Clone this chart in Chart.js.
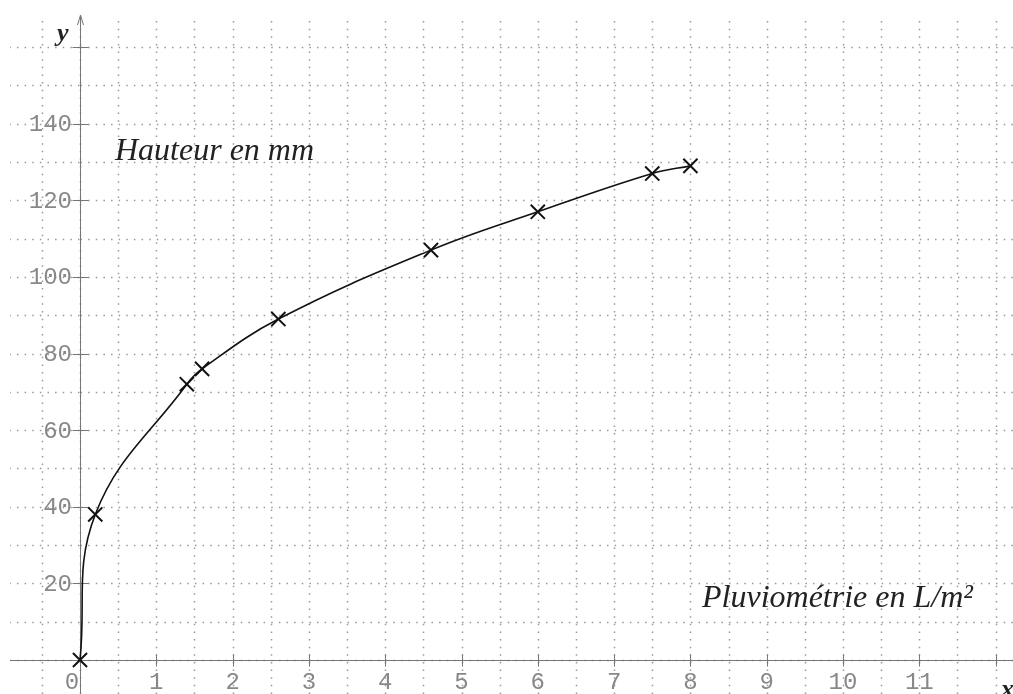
<!DOCTYPE html>
<html>
<head>
<meta charset="utf-8">
<script src="https://cdn.jsdelivr.net/npm/chart.js@4/dist/chart.umd.min.js"></script>
<style>
  html, body { margin: 0; padding: 0; background: #fff; }
  canvas { display: block; }
</style>
</head>
<body>
<canvas id="pluvioChart" width="1013" height="694"></canvas>
<script>
// data
const pluvio = [0, 0.2, 1.4, 1.6, 2.6, 4.6, 6, 7.5, 8];
const hauteur = [0, 38, 72, 76, 89, 107, 117, 127, 129];
const xTickLabels = [0, 1, 2, 3, 4, 5, 6, 7, 8, 9, 10, 11];
const yTickLabels = [20, 40, 60, 80, 100, 120, 140];
const xGrid = [-0.5, 0, 0.5, 1, 1.5, 2, 2.5, 3, 3.5, 4, 4.5, 5, 5.5, 6, 6.5, 7, 7.5, 8, 8.5, 9, 9.5, 10, 10.5, 11, 11.5, 12];
const yGrid = [0, 10, 20, 30, 40, 50, 60, 70, 80, 90, 100, 110, 120, 130, 140, 150, 160];

// grid, axes and labels drawn with the chart's own scales
const repere = {
  id: "repere",
  beforeDatasetsDraw(chart) {
    const { ctx, scales } = chart;
    const sx = scales.x, sy = scales.y;
    const x0 = sx.getPixelForValue(0), y0 = sy.getPixelForValue(0);
    const step = (sx.getPixelForValue(1) - x0) / 10;

    ctx.save();
    // dotted grid
    ctx.strokeStyle = "#999";
    ctx.lineWidth = 1.5;
    ctx.setLineDash([1.5, step - 1.5]);
    xGrid.forEach((v) => {
      const px = Math.round(sx.getPixelForValue(v)) + 0.5;
      ctx.beginPath();
      ctx.moveTo(px, 694);
      ctx.lineTo(px, 20);
      ctx.stroke();
    });
    yGrid.forEach((v) => {
      const py = Math.round(sy.getPixelForValue(v)) + 0.5;
      ctx.beginPath();
      ctx.moveTo(x0 - 0.5, py);
      ctx.lineTo(10, py);
      ctx.moveTo(x0 + 0.5, py);
      ctx.lineTo(1013, py);
      ctx.stroke();
    });
    ctx.setLineDash([]);

    // axes
    const ax = Math.round(x0) + 0.5, ay = Math.round(y0) + 0.5;
    ctx.strokeStyle = "#777";
    ctx.lineWidth = 1;
    ctx.beginPath();
    ctx.moveTo(10, ay);
    ctx.lineTo(1013, ay);
    ctx.moveTo(ax, 694);
    ctx.lineTo(ax, 15);
    ctx.moveTo(ax - 3, 25);
    ctx.lineTo(ax, 15);
    ctx.lineTo(ax + 3, 25);
    ctx.stroke();

    // ticks
    ctx.beginPath();
    for (let v = 1; v <= 12; v++) {
      const px = Math.round(sx.getPixelForValue(v)) + 0.5;
      ctx.moveTo(px, ay - 6);
      ctx.lineTo(px, ay + 6);
    }
    [20, 40, 60, 80, 100, 120, 140, 160].forEach((v) => {
      const py = Math.round(sy.getPixelForValue(v)) + 0.5;
      ctx.moveTo(ax - 8, py);
      ctx.lineTo(ax + 8, py);
    });
    ctx.stroke();

    // tick labels
    ctx.fillStyle = "#888";
    ctx.font = "24px 'Liberation Mono'";
    ctx.textAlign = "center";
    ctx.textBaseline = "middle";
    xTickLabels.forEach((v) => {
      const px = sx.getPixelForValue(v) - (v === 0 ? 8 : 0);
      ctx.fillText(String(v), px, 683);
    });
    ctx.textAlign = "right";
    yTickLabels.forEach((v) => {
      ctx.fillText(String(v), x0 - 8, sy.getPixelForValue(v) + 1);
    });
    ctx.restore();
  },
  afterDraw(chart) {
    const { ctx } = chart;
    ctx.save();
    ctx.fillStyle = "#222";
    ctx.font = "italic 32px 'Liberation Serif'";
    ctx.textBaseline = "alphabetic";
    ctx.textAlign = "left";
    ctx.fillText("Hauteur en mm", 115, 160);
    ctx.fillText("Pluviométrie en L/m²", 702, 607);
    ctx.font = "italic bold 26px 'Liberation Serif'";
    ctx.fillText("y", 57, 41);
    ctx.fillText("x", 1001, 697);
    ctx.restore();
  },
};

new Chart(document.getElementById("pluvioChart"), {
  type: "scatter",
  data: {
    datasets: [
      {
        label: "Hauteur",
        data: pluvio.map((x, i) => ({ x: x, y: hauteur[i] })),
        showLine: true,
        tension: 0.4,
        borderColor: "#111",
        borderWidth: 1.6,
        pointStyle: "crossRot",
        pointRadius: 10,
        pointBorderWidth: 2,
        pointBorderColor: "#111",
        pointBackgroundColor: "#111",
      },
    ],
  },
  options: {
    responsive: false,
    animation: false,
    layout: { padding: 0, autoPadding: false },
    plugins: {
      legend: { display: false },
      tooltip: { enabled: false },
    },
    scales: {
      x: { type: "linear", display: false, min: -1.0485, max: 12.228 },
      y: { type: "linear", display: false, min: -8.877, max: 172.3 },
    },
  },
  plugins: [repere],
});
</script>
</body>
</html>
